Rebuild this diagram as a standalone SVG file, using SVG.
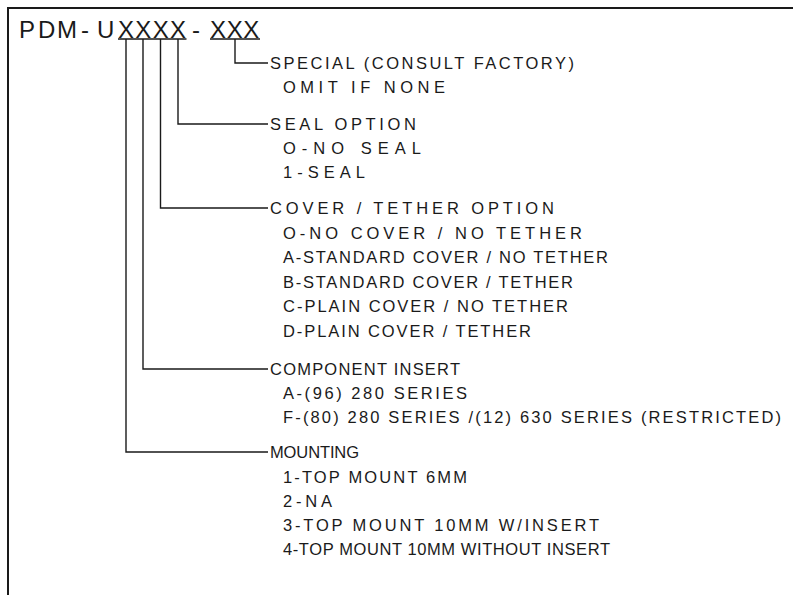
<svg xmlns="http://www.w3.org/2000/svg" width="793" height="595" viewBox="0 0 793 595">
<style>
.t{font-family:"Liberation Sans",Arial,sans-serif;font-size:16.5px;fill:#1a1a1a}
.ti{font-family:"Liberation Sans",Arial,sans-serif;font-size:24px;fill:#1a1a1a}
.c{stroke:#1a1a1a;stroke-width:1.4;fill:none}
.f{stroke:#1a1a1a;stroke-width:2;fill:none}
</style>
<rect width="793" height="595" fill="#ffffff"/>
<g id="frame"><path class="f" d="M8,595 V8 H793"/></g>
<g id="title">
<text class="ti" x="19 38 57 81 97 118 135.3 152.7 170 192 210 226.7 243.3" y="38">PDM-UXXXX-XXX</text>
<path class="c" d="M118,39 H186.5 M210,39 H260"/>
</g>
<g id="connectors">
<path class="c" d="M235,39 V63 H268"/>
<path class="c" d="M178,39 V124 H268"/>
<path class="c" d="M160.5,39 V208 H268"/>
<path class="c" d="M143,39 V369 H268"/>
<path class="c" d="M126,39 V452 H268"/>
</g>
<g id="special">
<text class="t" x="270" y="69" textLength="304" lengthAdjust="spacing">SPECIAL (CONSULT FACTORY)</text>
<text class="t" x="283" y="93" textLength="162" lengthAdjust="spacing">OMIT IF NONE</text>
</g>
<g id="seal">
<text class="t" x="270" y="130" textLength="146" lengthAdjust="spacing">SEAL OPTION</text>
<text class="t" x="283" y="154" textLength="138" lengthAdjust="spacing">O-NO SEAL</text>
<text class="t" x="283" y="178" textLength="82" lengthAdjust="spacing">1-SEAL</text>
</g>
<g id="cover">
<text class="t" x="270" y="214" textLength="284" lengthAdjust="spacing">COVER / TETHER OPTION</text>
<text class="t" x="283" y="238.5" textLength="299" lengthAdjust="spacing">O-NO COVER / NO TETHER</text>
<text class="t" x="283" y="263" textLength="325" lengthAdjust="spacing">A-STANDARD COVER / NO TETHER</text>
<text class="t" x="283" y="287.5" textLength="290" lengthAdjust="spacing">B-STANDARD COVER / TETHER</text>
<text class="t" x="283" y="312" textLength="285" lengthAdjust="spacing">C-PLAIN COVER / NO TETHER</text>
<text class="t" x="283" y="336.5" textLength="248" lengthAdjust="spacing">D-PLAIN COVER / TETHER</text>
</g>
<g id="component">
<text class="t" x="270" y="375" textLength="190" lengthAdjust="spacing">COMPONENT INSERT</text>
<text class="t" x="283" y="399" textLength="184" lengthAdjust="spacing">A-(96) 280 SERIES</text>
<text class="t" x="283" y="423" textLength="498" lengthAdjust="spacing">F-(80) 280 SERIES /(12) 630 SERIES (RESTRICTED)</text>
</g>
<g id="mounting">
<text class="t" x="270" y="458" textLength="89" lengthAdjust="spacing">MOUNTING</text>
<text class="t" x="283" y="483" textLength="184" lengthAdjust="spacing">1-TOP MOUNT 6MM</text>
<text class="t" x="283" y="507" textLength="49" lengthAdjust="spacing">2-NA</text>
<text class="t" x="283" y="531" textLength="316" lengthAdjust="spacing">3-TOP MOUNT 10MM W/INSERT</text>
<text class="t" x="283" y="555" textLength="327" lengthAdjust="spacing">4-TOP MOUNT 10MM WITHOUT INSERT</text>
</g>
</svg>
